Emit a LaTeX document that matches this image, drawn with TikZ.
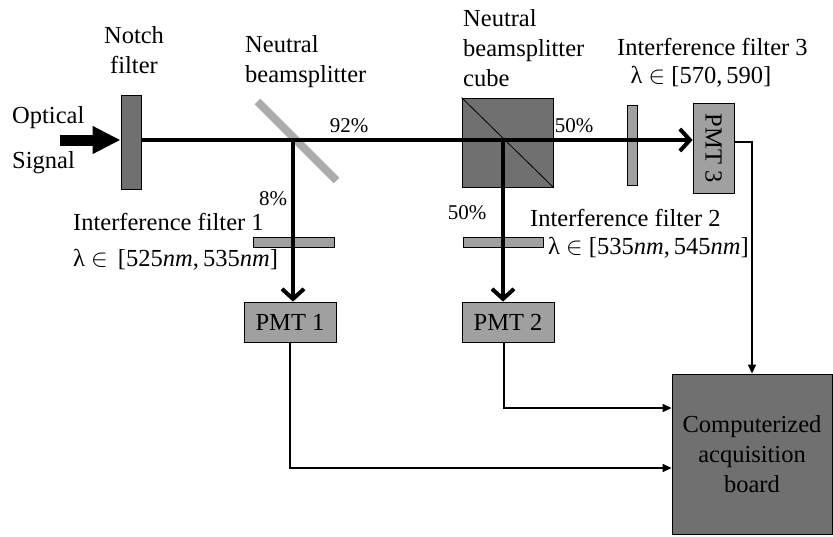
\documentclass[tikz,border=0pt]{standalone}
\usepackage{fontspec}
\setmainfont{Liberation Serif}
\usepackage{tikz}
\usetikzlibrary{arrows.meta}
\definecolor{darkgr}{RGB}{112,112,112}
\definecolor{lightgr}{RGB}{160,160,160}
\definecolor{plategr}{RGB}{172,172,172}
\tikzstyle{optic} = [rectangle, draw=black, line width=0.8pt, fill=darkgr, inner sep=0pt]
\tikzstyle{ifilter} = [rectangle, draw=black, line width=0.8pt, fill=lightgr, inner sep=0pt]
\tikzstyle{pmt} = [rectangle, draw=black, line width=0.8pt, fill=lightgr, inner sep=0pt,
minimum width=92pt, minimum height=40pt]
\tikzstyle{txt} = [inner sep=0pt, font=\fontsize{24.5}{30}\selectfont]
\tikzstyle{perc} = [inner sep=0pt, font=\fontsize{21}{24}\selectfont]
\tikzstyle{beam} = [line width=4pt, -{Straight Barb[length=10pt,width=22pt]}]
\tikzstyle{wire} = [line width=1.5pt, -{Triangle[length=9pt,width=8pt]}]

\begin{document}
\begin{tikzpicture}[x=1pt,y=-1pt]
	\useasboundingbox (0,0) rectangle (833,536);
	% optics
	\node (notch) at (131,142) [optic, minimum width=20pt, minimum height=94pt] {};
	\node (bs) at (297,141) [rectangle, fill=plategr, rotate=-45, minimum width=112pt, minimum height=8pt, inner sep=0pt] {};
	\node (cube) at (507.5,142.5) [optic, minimum width=91pt, minimum height=89pt] {};
	\draw[line width=0.8pt] (cube.north west) -- (cube.south east);
	\node (filt1) at (293.5,242) [ifilter, minimum width=81pt, minimum height=10pt] {};
	\node (filt2) at (503,242) [ifilter, minimum width=80pt, minimum height=10pt] {};
	\node (filt3) at (632,145) [ifilter, minimum width=10pt, minimum height=80pt] {};
	\node (pmt1) at (290,322) [pmt, txt] {PMT 1};
	\node (pmt2) at (508,322) [pmt, txt] {PMT 2};
	\node (pmt3) at (713.5,148) [pmt, txt, minimum width=41pt, minimum height=90pt] {\rotatebox{-90}{PMT 3}};
	\node (board) at (752,454) [optic, txt, minimum width=160pt, minimum height=160pt, align=center] {Computerized\\acquisition\\board};
	% beams
	\coordinate (s1) at (293,140);
	\coordinate (s2) at (503,140);
	\draw[line width=11pt, -{Triangle[length=28pt,width=26pt]}] (60,140) -- (notch.west |- s1);
	\draw[beam] (notch.east |- s1) -- (pmt3.west |- s1);
	\draw[beam] (s1) -- (s1 |- pmt1.north);
	\draw[beam] (s2) -- (s2 |- pmt2.north);
	% signals
	\draw[wire] ([yshift=6pt]pmt3.east) -| (board.north);
	\draw[wire] ([xshift=-4pt]pmt2.south) |- ([yshift=46pt]board.west);
	\draw[wire] (pmt1.south) |- ([yshift=-14pt]board.west);
	% labels
	\node (optical) at (12,118) [txt, anchor=west] {Optical};
	\node (signal) at (12,163) [txt, anchor=west] {Signal};
	\node (notchlbl) at (134,50) [txt, align=center] {Notch\\filter};
	\node (bslbl) at (245,62) [txt, anchor=west, align=left] {Neutral\\beamsplitter};
	\node (p92) at (349,126) [perc] {92\%};
	\node (p8) at (273,199) [perc] {8\%};
	\node (if1) at (73,222) [txt, anchor=west] {Interference filter 1};
	\node (lam1) at (73,260) [txt, anchor=west] {λ $\in$\, [525\textit{nm},\,535\textit{nm}]};
	\node (cubelbl) at (463,48) [txt, anchor=west, align=left] {Neutral\\beamsplitter\\cube};
	\node (p50a) at (574,126) [perc] {50\%};
	\node (if3) at (617,47) [txt, anchor=west] {Interference filter 3};
	\node (lam3) at (701,77) [txt] {λ $\in$ [570,\,590]};
	\node (p50b) at (467,213) [perc] {50\%};
	\node (if2) at (530,218) [txt, anchor=west] {Interference filter 2};
	\node (lam2) at (548,248) [txt, anchor=west] {λ $\in$ [535\textit{nm},\,545\textit{nm}]};
\end{tikzpicture}
\end{document}
